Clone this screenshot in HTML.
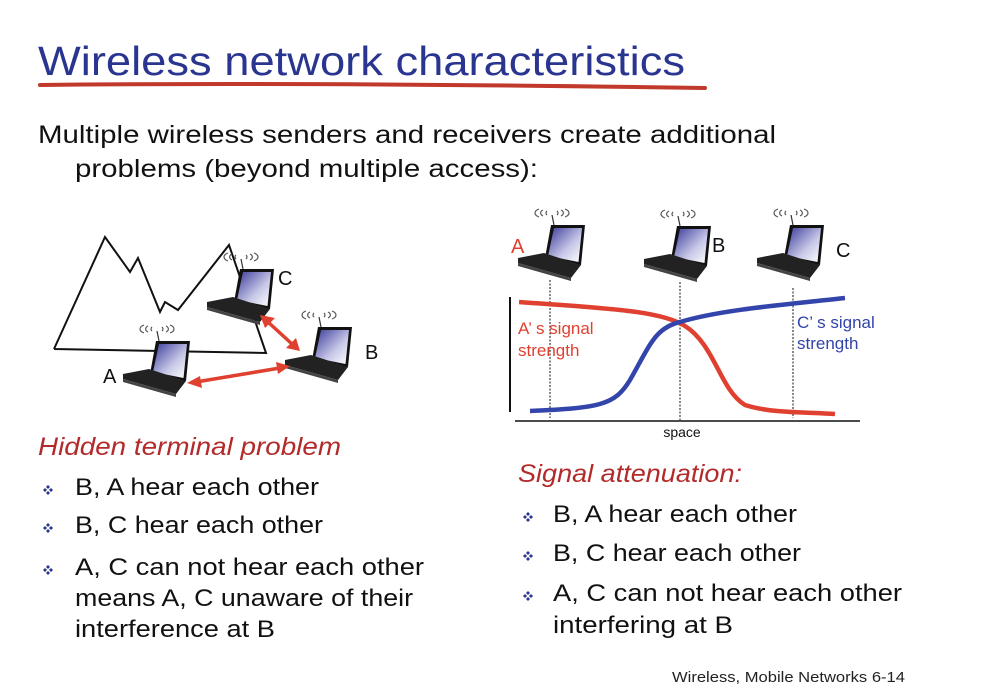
<!DOCTYPE html>
<html><head><meta charset="utf-8"><style>
html,body{margin:0;padding:0;background:#fff;}
svg{display:block;}
text{font-family:"Liberation Sans",sans-serif;}
</style></head><body>
<svg width="986" height="700" viewBox="0 0 986 700" xmlns="http://www.w3.org/2000/svg">
<defs>
<linearGradient id="scr" x1="0" y1="0" x2="1" y2="1">
<stop offset="0" stop-color="#3a3a9a"/><stop offset="0.6" stop-color="#c8c8e8"/><stop offset="1" stop-color="#ffffff"/>
</linearGradient>
<g id="lap">
<path d="M-12,-16 a10,5 0 0 0 0,8 M-8,-15 a7,4 0 0 0 0,6 M-4,-14 a4,3 0 0 0 0,4 M6,-14 a4,3 0 0 1 0,4 M10,-15 a7,4 0 0 1 0,6 M14,-16 a10,5 0 0 1 0,8" fill="none" stroke="#555" stroke-width="1.2"/>
<line x1="1" y1="-10" x2="3" y2="0" stroke="#333" stroke-width="1.2"/>
<polygon points="0,0 34,0 30,40 -6,33" fill="#111"/>
<polygon points="3,3 31,3 27.5,37 -3,31" fill="url(#scr)"/>
<polygon points="-33,33 -7,28 30,40 20,53 -33,38" fill="#222"/>
<polygon points="-33,38 20,53 20,56 -33,41" fill="#444"/>
</g>
<g id="dia" fill="#2a3590">
<polygon points="0,-5 2,-3 0,-1 -2,-3"/><polygon points="0,1 2,3 0,5 -2,3"/><polygon points="-5,0 -3,-2 -1,0 -3,2"/><polygon points="1,0 3,-2 5,0 3,2"/>
</g>
</defs>

<text x="38" y="75" font-size="41" fill="#2a3590" textLength="647" lengthAdjust="spacingAndGlyphs">Wireless network characteristics</text>
<path d="M40,85 Q300,82 705,88" stroke="#c0392b" stroke-width="4" fill="none" stroke-linecap="round"/>

<text x="38" y="143" font-size="25" fill="#111" textLength="738" lengthAdjust="spacingAndGlyphs">Multiple wireless senders and receivers create additional</text>
<text x="75" y="177" font-size="25" fill="#111" textLength="463" lengthAdjust="spacingAndGlyphs">problems (beyond multiple access):</text>

<!-- left diagram -->
<polyline points="54,349 105,237 130,272 138,258 160,312 165,302 178,310 229,245 266,353 54,349" fill="none" stroke="#111" stroke-width="2"/>
<use href="#lap" x="240" y="269"/>
<use href="#lap" x="318" y="327"/>
<use href="#lap" x="156" y="341"/>
<text x="278" y="285" font-size="20" fill="#111">C</text>
<text x="365" y="359" font-size="20" fill="#111">B</text>
<text x="103" y="383" font-size="20" fill="#111">A</text>
<g stroke="#e04030" stroke-width="3.5" fill="#e04030">
<line x1="268" y1="322" x2="292" y2="344"/>
<line x1="196" y1="382" x2="280" y2="368"/>
</g>
<g fill="#e04030">
<polygon points="260,315 275,318 265,328"/>
<polygon points="300,351 286,348 296,338"/>
<polygon points="187,383 200,376 202,388"/>
<polygon points="290,366 276,362 278,374"/>
</g>

<!-- right chart -->
<use href="#lap" x="551" y="225"/>
<use href="#lap" x="677" y="226"/>
<use href="#lap" x="790" y="225"/>
<text x="511" y="253" font-size="20" fill="#e04030">A</text>
<text x="712" y="252" font-size="20" fill="#111">B</text>
<text x="836" y="257" font-size="20" fill="#111">C</text>
<line x1="510" y1="297" x2="510" y2="412" stroke="#111" stroke-width="2"/>
<line x1="515" y1="421" x2="860" y2="421" stroke="#111" stroke-width="1.5"/>
<g stroke="#111" stroke-width="1" stroke-dasharray="2,1.5">
<line x1="550" y1="280" x2="550" y2="418"/>
<line x1="680" y1="282" x2="680" y2="420"/>
<line x1="793" y1="288" x2="793" y2="418"/>
</g>
<path d="M519,302 C600,308 660,310 685,326 C715,345 720,390 745,405 C770,413 800,412 835,414" fill="none" stroke="#e04030" stroke-width="4.5"/>
<path d="M530,411 C600,408 615,405 630,380 C650,345 655,328 680,322 C720,310 780,305 845,298" fill="none" stroke="#3344aa" stroke-width="4.5"/>
<text x="518" y="334" font-size="17" fill="#e04030">A’ s signal</text>
<text x="518" y="356" font-size="17" fill="#e04030">strength</text>
<text x="797" y="328" font-size="17" fill="#3344aa">C’ s signal</text>
<text x="797" y="349" font-size="17" fill="#3344aa">strength</text>
<text x="682" y="437" font-size="14" fill="#111" text-anchor="middle">space</text>

<!-- left text -->
<text x="38" y="455" font-size="25" font-style="italic" fill="#b22a2a" textLength="303" lengthAdjust="spacingAndGlyphs">Hidden terminal problem</text>
<use href="#dia" x="48" y="490"/>
<text x="75" y="495" font-size="24" fill="#111" textLength="244" lengthAdjust="spacingAndGlyphs">B, A hear each other</text>
<use href="#dia" x="48" y="528"/>
<text x="75" y="533" font-size="24" fill="#111" textLength="248" lengthAdjust="spacingAndGlyphs">B, C hear each other</text>
<use href="#dia" x="48" y="570"/>
<text x="75" y="575" font-size="24" fill="#111" textLength="349" lengthAdjust="spacingAndGlyphs">A, C can not hear each other</text>
<text x="75" y="606" font-size="24" fill="#111" textLength="338" lengthAdjust="spacingAndGlyphs">means A, C unaware of their</text>
<text x="75" y="637" font-size="24" fill="#111" textLength="200" lengthAdjust="spacingAndGlyphs">interference at B</text>

<!-- right text -->
<text x="518" y="482" font-size="25" font-style="italic" fill="#b22a2a" textLength="224" lengthAdjust="spacingAndGlyphs">Signal attenuation:</text>
<use href="#dia" x="528" y="517"/>
<text x="553" y="522" font-size="24" fill="#111" textLength="244" lengthAdjust="spacingAndGlyphs">B, A hear each other</text>
<use href="#dia" x="528" y="556"/>
<text x="553" y="561" font-size="24" fill="#111" textLength="248" lengthAdjust="spacingAndGlyphs">B, C hear each other</text>
<use href="#dia" x="528" y="596"/>
<text x="553" y="601" font-size="24" fill="#111" textLength="349" lengthAdjust="spacingAndGlyphs">A, C can not hear each other</text>
<text x="553" y="633" font-size="24" fill="#111" textLength="180" lengthAdjust="spacingAndGlyphs">interfering at B</text>

<text x="672" y="682" font-size="15" fill="#222" textLength="233" lengthAdjust="spacingAndGlyphs">Wireless, Mobile Networks  6-14</text>
</svg>
</body></html>
